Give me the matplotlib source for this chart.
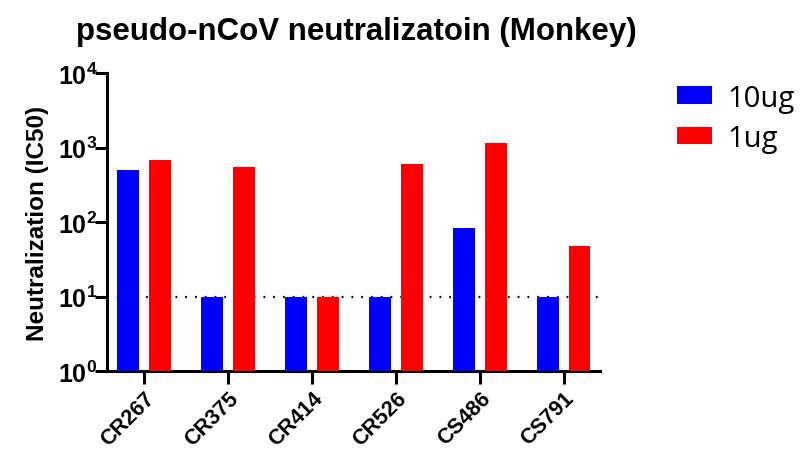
import matplotlib
matplotlib.use("Agg")
import matplotlib.pyplot as plt
import numpy as np

categories = ["CR267", "CR375", "CR414", "CR526", "CS486", "CS791"]
series_names = ["10ug", "1ug"]
vals_10ug = [495, 10, 10, 10, 83, 10]
vals_1ug = [680, 545, 10, 600, 1140, 47]
colors = ["#0000FF", "#FF0000"]
threshold = 10
ytick_vals = [1, 10, 100, 1000, 10000]
ytick_labels = [r"$\mathbf{10^{0}}$", r"$\mathbf{10^{1}}$", r"$\mathbf{10^{2}}$", r"$\mathbf{10^{3}}$", r"$\mathbf{10^{4}}$"]

plt.rcParams['font.family'] = ['Liberation Sans', 'DejaVu Sans']
plt.rcParams['mathtext.fontset'] = 'custom'
plt.rcParams['mathtext.bf'] = 'Liberation Sans:bold'
plt.rcParams['mathtext.rm'] = 'Liberation Sans'

fig = plt.figure(figsize=(8.05, 4.52), dpi=100)
ax = fig.add_axes([0.133, 0.177, 0.612, 0.659])

x = np.arange(len(categories))
w = 0.26
off = 0.19
ax.bar(x - off, vals_10ug, width=w, color=colors[0], label=series_names[0], zorder=3)
ax.bar(x + off, vals_1ug, width=w, color=colors[1], label=series_names[1], zorder=3)
ax.axhline(threshold, color="black", lw=1.6, linestyle=(0, (0.8, 3.6)), zorder=1)

ax.set_yscale("log")
ax.set_ylim(1, 10000)
ax.set_xlim(-0.44, 5.43)
ax.set_yticks(ytick_vals)
ax.set_yticklabels(ytick_labels, fontsize=18)
ax.yaxis.set_minor_locator(matplotlib.ticker.NullLocator())
ax.set_xticks(x)
ax.set_xticklabels(categories, rotation=45, ha="right", rotation_mode="anchor",
                   fontsize=15.5, fontweight="bold")

for s in ["top", "right"]:
    ax.spines[s].set_visible(False)
for s in ["left", "bottom"]:
    ax.spines[s].set_linewidth(2.2)
ax.tick_params(axis="both", width=2.2, direction="out")
ax.tick_params(axis="x", length=9, pad=3)
ax.tick_params(axis="y", length=9, pad=-2)

ax.set_ylabel("Neutralization (IC50)", fontsize=17.5, fontweight="bold", labelpad=6)
fig.suptitle("pseudo-nCoV neutralizatoin (Monkey)", x=0.443, y=0.962,
             fontsize=22.5, fontweight="bold")

fs_leg = 21
leg = ax.legend(loc="upper left", bbox_to_anchor=(1.156, 0.965), frameon=False,
                prop={"family": "Open Sans", "size": fs_leg},
                borderpad=0, borderaxespad=0,
                handlelength=1.23, handleheight=0.55, handletextpad=0.5,
                labelspacing=0.38)

fig.savefig("out.png", dpi=100)
